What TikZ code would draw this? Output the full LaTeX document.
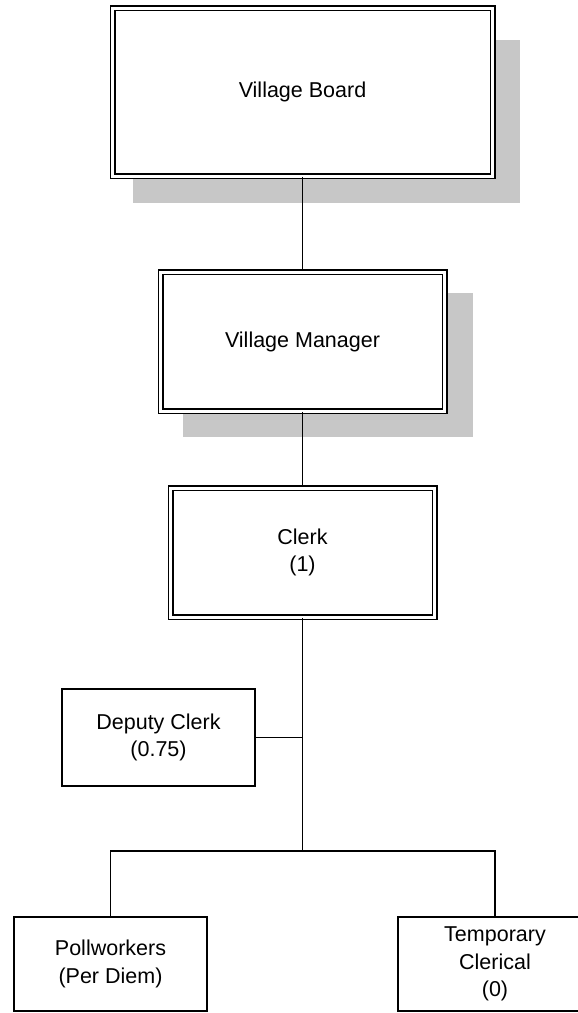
\documentclass[tikz,border=0pt]{standalone}
\usepackage{fontspec}
\setmainfont{Liberation Sans}
\begin{document}
\begin{tikzpicture}[x=1pt,y=-1pt,
  txt/.style={font=\fontsize{21.5}{27.5}\selectfont, align=center, inner sep=0pt},
  dbox/.style={txt, draw=black, fill=white, double, double distance=3pt, line width=1.5pt},
  sbox/.style={txt, draw=black, fill=white, line width=1.8pt},
  shadowfill/.style={fill=black!22, draw=none},
  conn/.style={draw=black, line width=1.8pt}]
\useasboundingbox (0,0) rectangle (578,1013);
\clip (0,0) rectangle (578,1013);
\fill[white] (0,0) rectangle (578,1013);
% shadows
\fill[shadowfill] (133,40) rectangle (520,203);
\fill[shadowfill] (183,293) rectangle (473,437);
% nodes
\node[dbox, minimum width=380pt, minimum height=168pt] (board) at (302.5,92) {Village Board};
\node[dbox, minimum width=284pt, minimum height=139pt] (mgr) at (302.5,341.5) {Village Manager};
\node[dbox, minimum width=264pt, minimum height=129pt] (clerk) at (302.5,552.5) {Clerk\\(1)};
\node[sbox, minimum width=193pt, minimum height=97pt] (deputy) at (158.5,737.5) {Deputy Clerk\\(0.75)};
\node[sbox, minimum width=193pt, minimum height=94pt] (poll) at (110.5,964) {Pollworkers\\(Per Diem)};
\node[sbox, minimum width=194pt, minimum height=94pt] (temp) at (495,964) {Temporary\\Clerical\\(0)};
\coordinate (junc) at (302.5,851);
% connectors
\draw[conn] (board.south) -- (mgr.north);
\draw[conn] (mgr.south) -- (clerk.north);
\draw[conn] (clerk.south) -- (junc);
\draw[conn] (deputy.east) -- (deputy.east -| junc);
\draw[conn] (poll.north) |- (junc) -| (temp.north);
\end{tikzpicture}
\end{document}
